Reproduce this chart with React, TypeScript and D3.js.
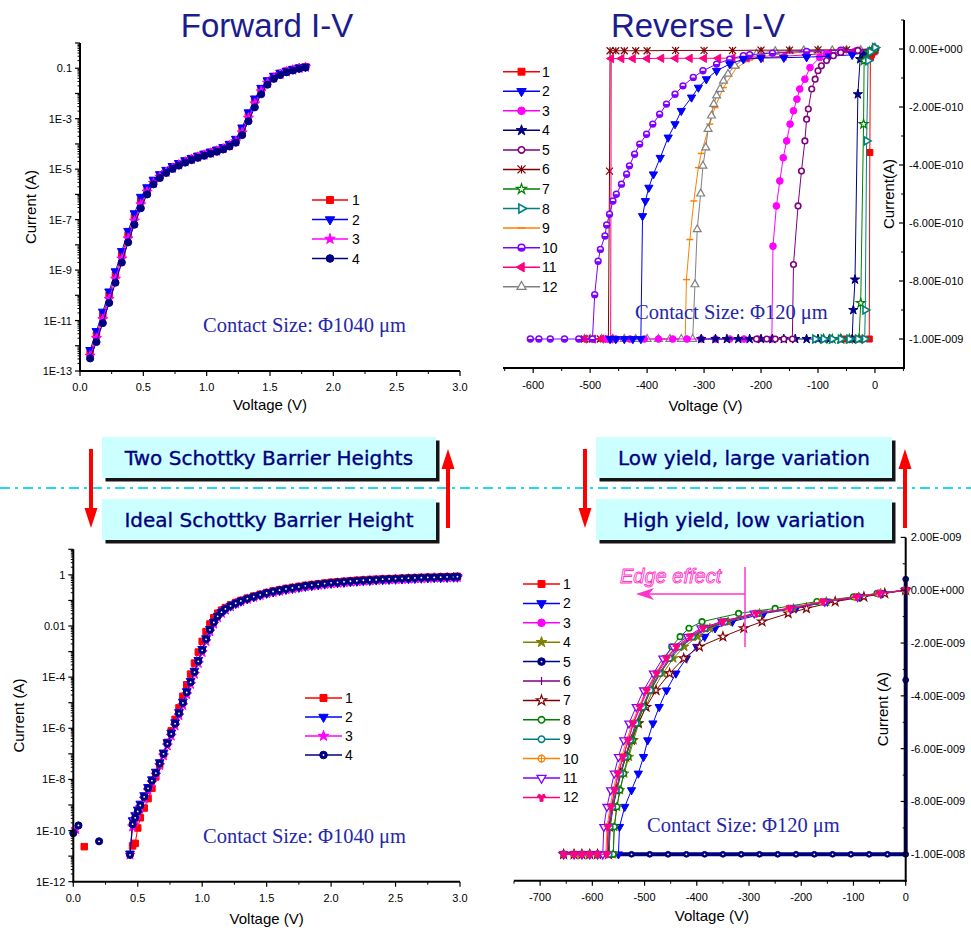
import * as d3 from "d3";
import { useEffect, useRef } from "react";

const W = 971;
const H = 928;

// ---------- Forward I-V (top left), log10 of current in A
const fwdVolt = [0.08, 0.13, 0.18, 0.23, 0.28, 0.33, 0.38, 0.43, 0.48, 0.53, 0.58, 0.63, 0.68, 0.73, 0.78, 0.83, 0.88, 0.93, 0.98, 1.03, 1.08, 1.13, 1.18, 1.23, 1.28, 1.33, 1.38, 1.43, 1.48, 1.53, 1.58, 1.63, 1.68, 1.73, 1.78];
const fwdLog1 = [-12.3, -11.58, -10.8, -10.0, -9.2, -8.4, -7.6, -6.9, -6.25, -5.8, -5.48, -5.25, -5.07, -4.92, -4.79, -4.68, -4.58, -4.49, -4.41, -4.33, -4.25, -4.16, -4.03, -3.85, -3.45, -2.85, -2.28, -1.83, -1.52, -1.34, -1.21, -1.12, -1.05, -0.99, -0.95];
const fwdLog2 = [-12.17, -11.42, -10.65, -9.85, -9.05, -8.25, -7.45, -6.75, -6.1, -5.72, -5.42, -5.2, -5.03, -4.88, -4.76, -4.65, -4.56, -4.47, -4.39, -4.31, -4.23, -4.13, -4.0, -3.8, -3.35, -2.75, -2.2, -1.78, -1.48, -1.3, -1.18, -1.1, -1.03, -0.97, -0.94];
const fwdLog3 = [-12.4, -11.7, -10.95, -10.15, -9.35, -8.55, -7.75, -7.05, -6.4, -5.9, -5.55, -5.3, -5.12, -4.96, -4.83, -4.71, -4.61, -4.52, -4.44, -4.36, -4.28, -4.19, -4.07, -3.9, -3.55, -2.97, -2.4, -1.92, -1.58, -1.38, -1.24, -1.14, -1.07, -1.0, -0.96];
const fwdLog4 = [-12.5, -11.85, -11.1, -10.3, -9.5, -8.7, -7.9, -7.2, -6.55, -6.0, -5.6, -5.35, -5.15, -4.99, -4.86, -4.74, -4.64, -4.55, -4.47, -4.39, -4.31, -4.22, -4.1, -3.95, -3.65, -3.1, -2.55, -2.03, -1.65, -1.42, -1.27, -1.16, -1.09, -1.02, -0.97];

// ---------- Reverse I-V (top right), current in nA
const rev1V = [0, -3, -6, -8, -9, -10, -25, -40, -55];
const rev1I = [0, -0.01, -0.02, -0.03, -0.357, -1, -1, -1, -1];
const rev2V = [0, -40, -80, -120, -160, -200, -231, -255, -278, -296, -310, -322, -340, -351, -363, -377, -389, -397, -403, -408, -411, -425, -440, -455, -465];
const rev2I = [-0.005, -0.02, -0.025, -0.028, -0.03, -0.031, -0.035, -0.052, -0.075, -0.104, -0.133, -0.167, -0.213, -0.259, -0.305, -0.375, -0.432, -0.478, -0.524, -0.576, -1, -1, -1, -1, -1];
const rev3V = [0, -30, -60, -85, -97, -114, -123, -132, -137, -143, -149, -155, -161, -167, -173, -179, -181, -205, -230, -255, -280, -305, -330, -355, -380, -405, -430, -455, -470];
const rev3I = [0, -0.005, -0.01, -0.017, -0.029, -0.064, -0.104, -0.138, -0.173, -0.213, -0.259, -0.317, -0.375, -0.455, -0.541, -0.68, -1, -1, -1, -1, -1, -1, -1, -1, -1, -1, -1, -1, -1];
const rev4V = [0, -10, -20, -26, -30, -35, -38, -40, -60, -80, -100, -120, -140, -160, -180, -200, -220, -240, -260, -280, -305];
const rev4I = [0, -0.01, -0.02, -0.035, -0.156, -0.795, -0.9, -1, -1, -1, -1, -1, -1, -1, -1, -1, -1, -1, -1, -1, -1];
const rev5V = [0, -30, -60, -73, -85, -94, -100, -105, -111, -117, -120, -123, -129, -135, -143, -145, -160, -175, -190, -208];
const rev5I = [0, -0.005, -0.012, -0.023, -0.04, -0.058, -0.075, -0.104, -0.138, -0.207, -0.242, -0.317, -0.421, -0.541, -0.743, -1, -1, -1, -1, -1];
const rev6V = [0, -50, -100, -150, -200, -250, -300, -350, -400, -420, -440, -455, -465, -466, -468, -482, -496, -510];
const rev6I = [0, -0.003, -0.003, -0.004, -0.004, -0.005, -0.005, -0.005, -0.006, -0.006, -0.006, -0.006, -0.006, -0.421, -1, -1, -1, -1];
const rev7V = [0, -10, -19, -20, -25, -28, -45, -60, -75, -90];
const rev7I = [0, -0.01, -0.04, -0.259, -0.876, -1, -1, -1, -1, -1];
const rev8V = [0, -8, -12, -14.6, -17, -18, -30, -45, -60, -75, -90, -105];
const rev8I = [0.005, -0.01, -0.04, -0.317, -0.9, -1, -1, -1, -1, -1, -1, -1];
const rev9V = [0, -60, -120, -180, -220, -243, -266, -281, -290, -305, -310, -318, -325, -331, -333, -345, -360, -375];
const rev9I = [0, -0.006, -0.01, -0.02, -0.038, -0.064, -0.133, -0.202, -0.259, -0.36, -0.409, -0.524, -0.657, -0.795, -1, -1, -1, -1];
const rev10V = [0, -60, -120, -180, -220, -231, -255, -278, -302, -319, -337, -351, -366, -378, -390, -401, -413, -422, -431, -436, -445, -454, -460, -466, -471, -474, -482, -486, -492, -496, -520, -545, -570, -590, -605];
const rev10I = [0, -0.004, -0.008, -0.014, -0.02, -0.023, -0.035, -0.052, -0.075, -0.098, -0.127, -0.156, -0.19, -0.225, -0.259, -0.294, -0.328, -0.363, -0.403, -0.432, -0.466, -0.501, -0.524, -0.57, -0.607, -0.645, -0.691, -0.732, -0.847, -1, -1, -1, -1, -1, -1];
const rev11V = [0, -40, -80, -120, -160, -200, -225, -250, -275, -300, -325, -350, -375, -400, -425, -445, -463, -464, -480, -495, -510];
const rev11I = [-0.005, -0.01, -0.015, -0.02, -0.025, -0.03, -0.031, -0.031, -0.032, -0.032, -0.032, -0.032, -0.032, -0.033, -0.033, -0.033, -0.033, -1, -1, -1, -1];
const rev12V = [0, -25, -50, -75, -100, -125, -150, -175, -200, -208, -231, -246, -258, -266, -272, -278, -283, -287, -293, -297, -302, -306, -312, -316, -320, -340, -360, -380, -400, -420, -440, -460, -480, -500, -510];
const rev12I = [0.005, -0.004, -0.004, -0.005, -0.005, -0.005, -0.006, -0.008, -0.012, -0.017, -0.035, -0.058, -0.086, -0.11, -0.138, -0.161, -0.19, -0.23, -0.276, -0.34, -0.403, -0.499, -0.622, -0.812, -1, -1, -1, -1, -1, -1, -1, -1, -1, -1, -1];

// ---------- Ideal forward (bottom left), log10 of current in A
const idealVolt = [0.44, 0.46, 0.48, 0.5, 0.52, 0.55, 0.58, 0.61, 0.64, 0.67, 0.7, 0.73, 0.76, 0.79, 0.82, 0.85, 0.88, 0.91, 0.94, 0.97, 1.0, 1.03, 1.06, 1.09, 1.12, 1.15, 1.18, 1.22, 1.26, 1.3, 1.35, 1.4, 1.45, 1.5, 1.55, 1.6, 1.65, 1.7, 1.75, 1.8, 1.85, 1.9, 1.95, 2.0, 2.05, 2.1, 2.15, 2.2, 2.25, 2.3, 2.35, 2.4, 2.45, 2.5, 2.55, 2.6, 2.65, 2.7, 2.75, 2.8, 2.85, 2.9, 2.95, 2.98];
const idealLog1 = [null, -10.6, -10.5, -9.9, -9.5, -9.12, -8.75, -8.35, -7.9, -7.45, -7.0, -6.55, -6.1, -5.65, -5.2, -4.75, -4.3, -3.88, -3.45, -3.02, -2.6, -2.22, -1.92, -1.68, -1.5, -1.38, -1.28, -1.17, -1.08, -1.0, -0.91, -0.83, -0.76, -0.69, -0.63, -0.58, -0.53, -0.49, -0.45, -0.41, -0.38, -0.35, -0.32, -0.29, -0.27, -0.25, -0.23, -0.21, -0.2, -0.18, -0.17, -0.16, -0.15, -0.14, -0.13, -0.12, -0.11, -0.1, -0.09, -0.09, -0.08, -0.07, -0.07, -0.06];
const idealLog2 = [-10.9, -9.6, -9.4, -9.18, -8.95, -8.62, -8.3, -8.0, -7.7, -7.33, -6.95, -6.55, -6.17, -5.77, -5.37, -4.96, -4.55, -4.15, -3.75, -3.33, -2.9, -2.48, -2.12, -1.84, -1.61, -1.46, -1.34, -1.22, -1.12, -1.03, -0.94, -0.86, -0.79, -0.72, -0.67, -0.62, -0.57, -0.53, -0.49, -0.45, -0.42, -0.39, -0.36, -0.33, -0.31, -0.29, -0.27, -0.25, -0.23, -0.22, -0.2, -0.19, -0.18, -0.17, -0.16, -0.15, -0.14, -0.13, -0.12, -0.11, -0.11, -0.1, -0.09, -0.09];
const idealLog3 = [-10.95, -9.85, -9.6, -9.35, -9.1, -8.76, -8.43, -8.12, -7.82, -7.45, -7.07, -6.68, -6.3, -5.9, -5.5, -5.1, -4.68, -4.28, -3.88, -3.46, -3.03, -2.6, -2.22, -1.92, -1.67, -1.5, -1.37, -1.24, -1.13, -1.04, -0.95, -0.87, -0.8, -0.73, -0.68, -0.63, -0.58, -0.54, -0.5, -0.46, -0.43, -0.4, -0.37, -0.34, -0.32, -0.3, -0.28, -0.26, -0.24, -0.23, -0.21, -0.2, -0.19, -0.18, -0.17, -0.16, -0.15, -0.14, -0.13, -0.12, -0.12, -0.11, -0.1, -0.1];
const idealLog4 = [-10.95, -9.75, -9.5, -9.25, -9.02, -8.68, -8.35, -8.05, -7.75, -7.38, -7.0, -6.6, -6.22, -5.82, -5.42, -5.01, -4.6, -4.2, -3.8, -3.38, -2.95, -2.52, -2.15, -1.86, -1.62, -1.46, -1.33, -1.21, -1.11, -1.02, -0.93, -0.85, -0.78, -0.71, -0.65, -0.6, -0.55, -0.51, -0.47, -0.43, -0.4, -0.37, -0.34, -0.31, -0.29, -0.27, -0.25, -0.23, -0.21, -0.2, -0.19, -0.17, -0.16, -0.15, -0.14, -0.13, -0.12, -0.11, -0.1, -0.1, -0.09, -0.08, -0.08, -0.07];
const idealStray1V = [0.085];
const idealStray1 = [-10.63];
const idealStray3V = [0.02];
const idealStray3 = [-9.95];
const idealStray4V = [0.0, 0.04];
const idealStray4 = [-10.1, -9.8];
const idealLone4V = [0.2];
const idealLone4 = [-10.42];

// ---------- High yield reverse (bottom right), current in nA
const hyCur = [0, -0.12, -0.25, -0.43, -0.69, -0.88, -1.19, -1.44, -1.76, -2.14, -2.58, -3.15, -3.79, -4.42, -5.04, -5.68, -6.31, -6.94, -7.57, -8.2, -8.96, -10, -10, -10, -10, -10, -10];
const hy1V = [0, -50, -93, -156, -220, -284, -345, -383, -408, -434, -453, -472, -490, -504, -517, -527, -537, -547, -554, -561, -567, -569, -590, -605, -620, -635, -655];
const hy2V = [0, -45, -88, -150, -210, -272, -332, -365, -385, -400, -420, -440, -458, -472, -484, -494, -502, -512, -525, -538, -548, -550, -590, -605, -620, -635, -655];
const hy3V = [0, -52, -95, -160, -224, -288, -350, -387, -411, -436, -456, -475, -494, -508, -521, -531, -541, -550, -557, -563, -569, -571, -590, -605, -620, -635, -655];
const hy4V = [0, -48, -90, -152, -215, -280, -340, -375, -398, -424, -445, -465, -484, -498, -511, -521, -530, -539, -547, -553, -558, -560, -590, -605, -620, -635, -655];
const hy5V = [0, 0, 0, -35, -70, -105, -140, -175, -210, -245, -280, -315, -350, -385, -420, -455, -490, -525, -560];
const hy5I = [0.42, -3.4, -10, -10, -10, -10, -10, -10, -10, -10, -10, -10, -10, -10, -10, -10, -10, -10, -10];
const hy6V = [0, -50, -92, -155, -218, -282, -342, -380, -405, -430, -450, -470, -488, -502, -515, -526, -536, -545, -553, -560, -566, -568, -590, -605, -620, -635, -655];
const hy7V = [0, -40, -80, -135, -190, -225, -275, -310, -350, -395, -425, -452, -478, -497, -512, -525, -536, -546, -554, -561, -567, -569, -590, -605, -620, -635, -655];
const hy8V = [0, -55, -100, -170, -250, -320, -390, -415, -432, -448, -462, -476, -490, -502, -513, -523, -532, -540, -547, -553, -558, -560, -590, -605, -620, -635, -655];
const hy9V = [0, -50, -92, -156, -220, -284, -346, -384, -408, -433, -452, -471, -489, -503, -516, -527, -537, -546, -554, -561, -566, -568, -590, -605, -620, -635, -655];
const hy10V = [0, -52, -96, -160, -225, -290, -352, -390, -414, -440, -460, -479, -497, -511, -524, -534, -544, -553, -560, -566, -572, -574, -590, -605, -620, -635, -655];
const hy11V = [0, -48, -92, -155, -220, -290, -352, -392, -418, -445, -465, -483, -502, -516, -530, -540, -550, -558, -565, -572, -578, -580, -590, -605, -620, -635, -655];
const hy12V = [0, -50, -94, -158, -222, -286, -350, -388, -413, -439, -458, -477, -496, -509, -522, -531, -541, -551, -557, -564, -570, -572, -590, -605, -620, -635, -655];

// tick values
const voltTicks = [0, 0.5, 1, 1.5, 2, 2.5, 3];
const voltMinor = [0.25, 0.75, 1.25, 1.75, 2.25, 2.75];
const revTicksX = [-600, -500, -400, -300, -200, -100, 0];
const revMinorX = [-650, -550, -450, -350, -250, -150, -50, 50];
const revTicksY = [0, -0.2, -0.4, -0.6, -0.8, -1.0];
const revMinorY = [0.1, -0.1, -0.3, -0.5, -0.7, -0.9, -1.1];
const hyTicksX = [-700, -600, -500, -400, -300, -200, -100, 0];
const hyMinorX = [-750, -650, -550, -450, -350, -250, -150, -50];
const hyTicksY = [2, 0, -2, -4, -6, -8, -10];
const hyMinorY = [1, -1, -3, -5, -7, -9, -11];

const names12 = ["1", "2", "3", "4", "5", "6", "7", "8", "9", "10", "11", "12"];
const fwdColors = ["#ff0000", "#0000ff", "#ff00ff", "#000080"];
const revColors = ["#ff0000", "#0000ff", "#ff00ff", "#000080", "#800080", "#800000", "#008000", "#008080", "#ff8000", "#8000ff", "#ff0080", "#808080"];
const revMarks = ["square", "triDown", "circle", "star", "circleOpen", "asterisk", "starOpen", "triRightOpen", "hbar", "circleHalf", "triLeft", "triUpOpen"];
const hyColors = ["#ff0000", "#0000ff", "#ff00ff", "#808000", "#000080", "#800080", "#800000", "#008000", "#008080", "#ff8000", "#8000ff", "#ff0080"];
const hyMarks = ["square", "triDown", "circle", "star", "circleDot", "vbar", "starOpen", "circleOpen", "circleOpen", "circleCross", "triDownOpen", "wye"];

const SANS = "Liberation Sans, Arial, sans-serif";
const SERIF = "Liberation Serif, Times New Roman, serif";
const NAVY = "#1c1c8e";

function line(g: any, x1: number, y1: number, x2: number, y2: number, c = "#000", w = 1) {
  return g.append("line").attr("x1", x1).attr("y1", y1).attr("x2", x2).attr("y2", y2).attr("stroke", c).attr("stroke-width", w);
}

function txt(g: any, x: number, y: number, s: string, o: any = {}) {
  const t = g.append("text").attr("x", x).attr("y", y).text(s)
    .attr("font-family", o.family ?? SANS)
    .attr("font-size", o.size ?? 11)
    .attr("fill", o.fill ?? "#000")
    .attr("text-anchor", o.anchor ?? "start");
  if (o.rotate) t.attr("transform", `rotate(${o.rotate},${x},${y})`);
  if (o.italic) t.attr("font-style", "italic");
  if (o.stroke) t.attr("stroke", o.stroke).attr("stroke-width", o.sw ?? 0.5);
  return t;
}

function marker(g: any, kind: string, x: number, y: number, color: string, s = 7) {
  const a = s * s;
  const sym = (type: any, area: number, rot: number, fill: string, sw = 1) =>
    g.append("path").attr("d", d3.symbol(type, area)()).attr("transform", `translate(${x},${y}) rotate(${rot})`)
      .attr("fill", fill).attr("stroke", color).attr("stroke-width", sw);
  const r = s / 2;
  switch (kind) {
    case "square": sym(d3.symbolSquare, a * 0.75, 0, color); break;
    case "triDown": sym(d3.symbolTriangle, a * 0.6, 180, color); break;
    case "triDownOpen": sym(d3.symbolTriangle, a * 0.55, 180, "white", 1.3); break;
    case "triUpOpen": sym(d3.symbolTriangle, a * 0.55, 0, "white", 1.2); break;
    case "triLeft": sym(d3.symbolTriangle, a * 0.6, -90, color); break;
    case "triRightOpen": sym(d3.symbolTriangle, a * 0.55, 90, "white", 1.6); break;
    case "star": sym(d3.symbolStar, a * 0.55, 0, color); break;
    case "starOpen": sym(d3.symbolStar, a * 0.5, 0, "white", 1.2); break;
    case "circle": sym(d3.symbolCircle, a * 0.72, 0, color); break;
    case "circleOpen": sym(d3.symbolCircle, a * 0.5, 0, "white", 1.6); break;
    case "circleDot":
      sym(d3.symbolCircle, a * 0.72, 0, color);
      g.append("circle").attr("cx", x).attr("cy", y).attr("r", 0.9).attr("fill", "white");
      break;
    case "circleHalf":
      sym(d3.symbolCircle, a * 0.55, 0, "white", 1.5);
      g.append("path").attr("d", `M${x - r * 0.8},${y} A${r * 0.8},${r * 0.8} 0 0 0 ${x + r * 0.8},${y} Z`).attr("fill", color);
      break;
    case "circleCross":
      sym(d3.symbolCircle, a * 0.55, 0, "white", 1.3);
      line(g, x - r, y, x + r, y, color, 1);
      line(g, x, y - r, x, y + r, color, 1);
      break;
    case "asterisk":
      line(g, x - r, y - r, x + r, y + r, color, 1.2);
      line(g, x - r, y + r, x + r, y - r, color, 1.2);
      line(g, x, y - r, x, y + r, color, 1.2);
      break;
    case "hbar": line(g, x - r, y, x + r, y, color, 1.5); break;
    case "vbar": line(g, x, y - r, x, y + r, color, 1.2); break;
    case "wye": sym(d3.symbolWye, a * 0.5, 0, color); break;
  }
}

function plot(g: any, xs: number[], ys: (number | null)[], fx: any, fy: any, color: string, kind: string, ms = 7, lw = 1, connect = true) {
  const pts = xs.map((v, i) => [v, ys[i]]).filter((p) => p[1] !== null && p[1] !== undefined) as number[][];
  if (connect) {
    const ln = d3.line<number[]>().x((d) => fx(d[0])).y((d) => fy(d[1]));
    g.append("path").datum(pts).attr("d", ln).attr("fill", "none").attr("stroke", color).attr("stroke-width", lw);
  }
  pts.forEach((p) => marker(g, kind, fx(p[0]), fy(p[1]), color, ms));
}

function legend(g: any, items: any[], x0: number, x1: number, y0: number, dy: number, lx: number) {
  items.forEach((it, i) => {
    const y = y0 + i * dy;
    line(g, x0, y, x1, y, it.color, 1.5);
    marker(g, it.mark, (x0 + x1) / 2, y, it.color, 8);
    txt(g, lx, y + 5, it.name, { size: 14 });
  });
}

function logLabel(e: number) {
  if (e === 0) return "1";
  if (e === -1) return "0.1";
  if (e === -2) return "0.01";
  return "1E" + e;
}

function fmtSci(v: number) {
  if (Math.abs(v) < 1e-20) return "0.00E+000";
  const e = Math.floor(Math.log10(Math.abs(v)) + 1e-9);
  const m = v / Math.pow(10, e);
  return m.toFixed(2) + "E" + (e < 0 ? "-" : "+") + String(Math.abs(e)).padStart(3, "0");
}

// log y axis on the left, linear x axis at bottom
function logAxes(g: any, x: any, y: any, expLo: number, expHi: number, labelExps: number[], labelY: number, titleY: number, titleX: number) {
  const [x0, x1] = x.range();
  const [yb, yt] = y.range();
  for (let e = expLo; e <= expHi; e++) {
    const yy = y(Math.pow(10, e));
    line(g, x0 - 5, yy, x0, yy, "#000", 1.2);
    if (e < expHi) for (let k = 2; k < 10; k++) {
      const ym = y(k * Math.pow(10, e));
      line(g, x0 - 2.5, ym, x0, ym, "#000", 1);
    }
  }
  labelExps.forEach((e) => txt(g, x0 - 8, y(Math.pow(10, e)) + 4, logLabel(e), { anchor: "end" }));
  voltTicks.forEach((v) => {
    line(g, x(v), yb, x(v), yb + 5, "#000", 1.2);
    txt(g, x(v), labelY, v.toFixed(1), { anchor: "middle" });
  });
  voltMinor.forEach((v) => line(g, x(v), yb, x(v), yb + 3, "#000", 1));
  line(g, x0, yt, x0, yb + 1, "#000", 2);
  line(g, x0 - 1, yb, x1, yb, "#000", 2);
  txt(g, (x0 + x1) / 2, titleY, "Voltage (V)", { anchor: "middle", size: 15 });
  txt(g, titleX, (yt + yb) / 2, "Current (A)", { anchor: "middle", size: 15, rotate: -90 });
}

// linear y axis on the right, linear x axis at bottom
function linAxes(g: any, x: any, y: any, ticksX: number[], minorX: number[], ticksY: number[], minorY: number[], labelY: number, titleY: number, titleX: number, yTitle: string) {
  const [x0, x1] = x.range();
  const [yb, yt] = y.range();
  ticksY.forEach((v) => {
    line(g, x1 - 5, y(v * 1e-9), x1, y(v * 1e-9), "#000", 1.2);
    txt(g, x1 + 5, y(v * 1e-9) + 4, fmtSci(v * 1e-9), { size: 11 });
  });
  minorY.forEach((v) => line(g, x1 - 3, y(v * 1e-9), x1, y(v * 1e-9), "#000", 1));
  ticksX.forEach((v) => {
    line(g, x(v), yb, x(v), yb + 5, "#000", 1.2);
    txt(g, x(v), labelY, String(v), { anchor: "middle" });
  });
  minorX.forEach((v) => line(g, x(v), yb, x(v), yb + 3, "#000", 1));
  line(g, x1, yt, x1, yb + 1, "#000", 2);
  line(g, x0, yb, x1 + 1, yb, "#000", 2);
  txt(g, (x0 + x1) / 2 + 2, titleY, "Voltage (V)", { anchor: "middle", size: 15 });
  txt(g, titleX, (yt + yb) / 2, yTitle, { anchor: "middle", size: 15, rotate: -90 });
}

function drawForward(svg: any) {
  const g = svg.append("g");
  const x = d3.scaleLinear().domain([0, 3]).range([80, 460]);
  const y = d3.scaleLog().domain([1e-13, 1]).range([371, 43]);
  const fy = (v: number) => y(Math.pow(10, v));
  const data = [fwdLog1, fwdLog2, fwdLog3, fwdLog4];
  const marks = ["square", "triDown", "star", "circle"];
  data.forEach((d, i) => plot(g, fwdVolt, d, x, fy, fwdColors[i], marks[i], 7.5));
  logAxes(g, x, y, -13, 0, [-1, -3, -5, -7, -9, -11, -13], 391, 410, 36);
  legend(g, [0, 1, 2, 3].map((i) => ({ name: names12[i], color: fwdColors[i], mark: marks[i] })), 312, 348, 200, 19.5, 352);
  txt(g, 267, 37, "Forward I-V", { anchor: "middle", size: 33, fill: NAVY });
  txt(g, 203, 332, "Contact Size: \u03A61040 \u03BCm", { family: SERIF, size: 20.5, fill: "#2626a8" });
}

function drawReverse(svg: any) {
  const g = svg.append("g");
  const x = d3.scaleLinear().domain([-653, 51]).range([503, 904]);
  const y = d3.scaleLinear().domain([-1.1e-9, 1e-10]).range([368, 20]);
  const fy = (v: number) => y(v * 1e-9);
  const vs = [rev1V, rev2V, rev3V, rev4V, rev5V, rev6V, rev7V, rev8V, rev9V, rev10V, rev11V, rev12V];
  const is = [rev1I, rev2I, rev3I, rev4I, rev5I, rev6I, rev7I, rev8I, rev9I, rev10I, rev11I, rev12I];
  const order = [8, 11, 5, 10, 9, 2, 1, 0, 3, 4, 6, 7];
  order.forEach((i) => plot(g, vs[i], is[i], x, fy, revColors[i], revMarks[i], 7));
  linAxes(g, x, y, revTicksX, revMinorX, revTicksY, revMinorY, 389, 411, 894, "Current(A)");
  legend(g, names12.map((n, i) => ({ name: n, color: revColors[i], mark: revMarks[i] })), 503, 540, 71.7, 19.55, 542);
  txt(g, 698, 37, "Reverse I-V", { anchor: "middle", size: 33, fill: NAVY });
  txt(g, 635, 319, "Contact Size: \u03A6120 \u03BCm", { family: SERIF, size: 20.5, fill: "#2626a8" });
}

function drawIdeal(svg: any) {
  const g = svg.append("g");
  const x = d3.scaleLinear().domain([0, 3]).range([73.3, 460]);
  const y = d3.scaleLog().domain([1e-12, 10]).range([881.7, 549.3]);
  const fy = (v: number) => y(Math.pow(10, v));
  const data = [idealLog1, idealLog2, idealLog3, idealLog4];
  const marks = ["square", "triDown", "star", "circleDot"];
  data.forEach((d, i) => plot(g, idealVolt, d, x, fy, fwdColors[i], marks[i], 7.5));
  plot(g, idealStray1V, idealStray1, x, fy, fwdColors[0], "square", 7.5, 1, false);
  plot(g, idealStray3V, idealStray3, x, fy, fwdColors[2], "star", 7.5, 1, false);
  plot(g, idealStray4V, idealStray4, x, fy, fwdColors[3], "circleDot", 7.5);
  plot(g, idealLone4V, idealLone4, x, fy, fwdColors[3], "circleDot", 7.5, 1, false);
  logAxes(g, x, y, -12, 1, [0, -2, -4, -6, -8, -10, -12], 902, 924, 24);
  legend(g, [0, 1, 2, 3].map((i) => ({ name: names12[i], color: fwdColors[i], mark: marks[i] })), 305, 342, 698, 19, 345);
  txt(g, 203, 843, "Contact Size: \u03A61040 \u03BCm", { family: SERIF, size: 20.5, fill: "#2626a8" });
}

function drawHighYield(svg: any) {
  const g = svg.append("g");
  const x = d3.scaleLinear().domain([-750, 0]).range([514, 905.7]);
  const y = d3.scaleLinear().domain([-1.1e-8, 2e-9]).range([880.7, 537.4]);
  const fy = (v: number) => y(v * 1e-9);
  const vs = [hy1V, hy2V, hy3V, hy4V, null, hy6V, hy7V, hy8V, hy9V, hy10V, hy11V, hy12V];
  plot(g, hy5V, hy5I, x, fy, hyColors[4], "circleDot", 6, 4);
  vs.forEach((v, i) => {
    if (v) plot(g, v, hyCur, x, fy, hyColors[i], hyMarks[i], 7);
  });
  linAxes(g, x, y, hyTicksX, hyMinorX, hyTicksY, hyMinorY, 901, 921, 888, "Current (A)");
  legend(g, names12.map((n, i) => ({ name: n, color: hyColors[i], mark: hyMarks[i] })), 523, 560, 584, 19.4, 563);
  txt(g, 647, 832, "Contact Size: \u03A6120 \u03BCm", { family: SERIF, size: 20.5, fill: "#2626a8" });
  // edge effect annotation
  const pink = "#ff33cc";
  line(g, 745, 567, 745, 647, pink, 1.5);
  line(g, 745, 594, 638, 594, pink, 1.5);
  g.append("path").attr("d", "M636,594 L654,588 L649,594 L654,600 Z").attr("fill", pink);
  txt(g, 620, 583, "Edge effect", { size: 20, italic: true, fill: "white", stroke: pink, sw: 0.9 });
}

function banner(g: any, x: number, y: number, w: number, h: number, label: string) {
  g.append("rect").attr("x", x + 3.5).attr("y", y + 3.5).attr("width", w).attr("height", h).attr("fill", "#151515");
  g.append("rect").attr("x", x).attr("y", y).attr("width", w).attr("height", h).attr("fill", "#ccffff");
  txt(g, x + w / 2, y + h / 2 + 7, label, { anchor: "middle", size: 20, family: "DejaVu Sans, Verdana, sans-serif", fill: "#000080", stroke: "#000080", sw: 0.35 });
}

function arrow(g: any, x: number, yTail: number, yTip: number) {
  const dir = Math.sign(yTip - yTail);
  const yb = yTip - dir * 20;
  const d = `M${x - 2},${yTail} L${x + 2},${yTail} L${x + 2},${yb} L${x + 6.5},${yb} L${x},${yTip} L${x - 6.5},${yb} L${x - 2},${yb} Z`;
  g.append("path").attr("d", d).attr("fill", "#ff0000");
}

function drawMiddle(svg: any) {
  const g = svg.append("g");
  line(g, 0, 488, W, 488, "#22d8ee", 2).attr("stroke-dasharray", "10,5,3,5");
  banner(g, 102, 437, 334, 41, "Two Schottky Barrier Heights");
  banner(g, 102, 499, 334, 41, "Ideal Schottky Barrier Height");
  banner(g, 596, 437, 296, 41, "Low yield, large variation");
  banner(g, 596, 499, 296, 41, "High yield, low variation");
  arrow(g, 91, 449, 528);
  arrow(g, 448, 528, 449);
  arrow(g, 585, 449, 528);
  arrow(g, 905, 528, 449);
}

export default function App() {
  const ref = useRef<SVGSVGElement>(null);
  useEffect(() => {
    const svg = d3.select(ref.current);
    svg.selectAll("*").remove();
    svg.append("rect").attr("width", W).attr("height", H).attr("fill", "white");
    drawForward(svg);
    drawReverse(svg);
    drawIdeal(svg);
    drawHighYield(svg);
    drawMiddle(svg);
  }, []);
  return <svg ref={ref} width={W} height={H} style={{ position: "absolute", left: 0, top: 0, display: "block" }} />;
}
